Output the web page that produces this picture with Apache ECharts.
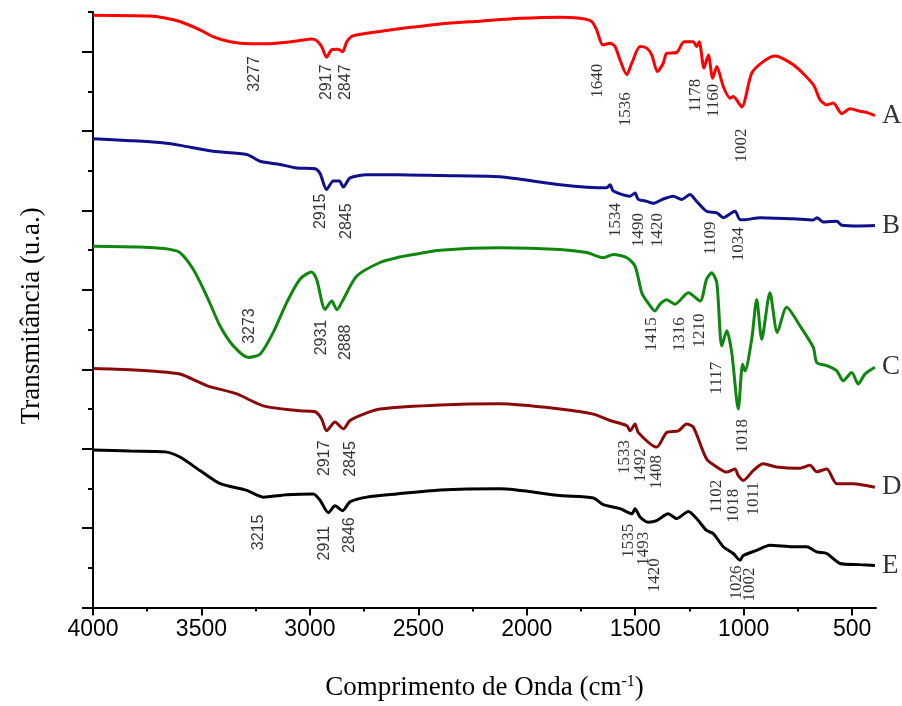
<!DOCTYPE html>
<html>
<head>
<meta charset="utf-8">
<script src="https://cdn.jsdelivr.net/npm/echarts@6/dist/echarts.min.js"></script>
<style>
html,body{margin:0;padding:0;background:#fff;}
#chart{width:902px;height:706px;}
</style>
</head>
<body>
<div id="chart"></div>
<script>
// ---- data: [wavenumber (cm-1), transmittance (a.u., offset)] ----
var curveNames = ['A', 'B', 'C', 'D', 'E'];
var curveColors = ['#ff0000', '#10108c', '#0f870f', '#8a0a0a', '#000000'];

var seriesA = [[4000,14.92],[3737,14.90],[3668,14.85],[3599,14.76],[3507,14.55],[3447,14.38],[3368,14.25],[3276,14.20],[3198,14.20],[3106,14.24],[3046,14.28],[2992,14.32],[2969,14.28],[2946,14.13],[2923,13.86],[2899,14.05],[2870,14.06],[2849,14.00],[2830,14.25],[2801,14.40],[2677,14.51],[2525,14.62],[2400,14.70],[2216,14.77],[2031,14.84],[1847,14.87],[1755,14.84],[1701,14.76],[1678,14.55],[1649,14.17],[1616,14.21],[1593,14.13],[1570,13.79],[1539,13.42],[1516,13.71],[1478,14.13],[1447,14.09],[1424,13.92],[1398,13.50],[1371,13.71],[1355,13.96],[1309,13.98],[1275,14.25],[1232,14.25],[1217,14.13],[1205,14.25],[1183,13.59],[1163,13.92],[1143,13.33],[1124,13.63],[1094,13.12],[1063,12.83],[1048,12.87],[1009,12.61],[963,13.46],[910,13.75],[856,13.89],[771,13.67],[679,13.17],[648,12.79],[617,12.66],[587,12.71],[548,12.44],[510,12.56],[464,12.50],[427,12.46],[395,12.39]];

var seriesB = [[4000,11.81],[3829,11.76],[3691,11.71],[3599,11.64],[3447,11.49],[3291,11.41],[3230,11.24],[3138,11.16],[3061,11.07],[2976,11.05],[2953,10.93],[2923,10.53],[2892,10.74],[2864,10.74],[2846,10.59],[2815,10.82],[2738,10.90],[2600,10.90],[2400,10.88],[2124,10.85],[1847,10.65],[1632,10.57],[1616,10.65],[1601,10.49],[1524,10.36],[1501,10.44],[1486,10.28],[1447,10.23],[1417,10.18],[1371,10.29],[1325,10.36],[1286,10.28],[1248,10.40],[1217,10.23],[1171,9.98],[1124,9.94],[1094,9.82],[1040,9.98],[1017,9.77],[994,9.77],[925,9.82],[771,9.79],[679,9.76],[663,9.82],[633,9.71],[571,9.73],[548,9.63],[464,9.61],[395,9.62]];

var seriesC = [[4000,9.10],[3783,9.08],[3691,9.05],[3645,9.02],[3599,8.94],[3538,8.52],[3476,7.85],[3414,7.09],[3353,6.59],[3284,6.30],[3230,6.38],[3169,6.93],[3107,7.68],[3046,8.27],[2992,8.45],[2969,8.27],[2930,7.51],[2899,7.72],[2876,7.50],[2846,7.76],[2784,8.35],[2677,8.69],[2600,8.81],[2523,8.89],[2400,9.00],[2124,9.06],[1847,9.02],[1724,8.94],[1647,8.81],[1601,8.89],[1539,8.81],[1501,8.60],[1470,7.93],[1447,7.72],[1409,7.47],[1386,7.64],[1355,7.75],[1317,7.64],[1255,7.93],[1201,7.72],[1171,8.27],[1148,8.43],[1124,8.18],[1101,6.59],[1078,6.97],[1055,6.42],[1025,5.00],[1005,6.13],[994,5.96],[963,6.76],[940,7.76],[917,6.76],[879,7.93],[845,6.93],[802,7.56],[740,7.09],[679,6.55],[663,6.17],[617,6.09],[571,5.96],[541,5.71],[502,5.92],[472,5.63],[441,5.88],[395,6.05]];

var seriesD = [[4000,6.02],[3829,5.99],[3714,5.95],[3599,5.88],[3476,5.59],[3337,5.38],[3215,5.08],[3061,4.96],[2976,4.93],[2946,4.75],[2923,4.45],[2884,4.67],[2846,4.50],[2815,4.71],[2738,4.90],[2677,5.00],[2400,5.10],[2124,5.13],[1847,5.00],[1693,4.87],[1616,4.71],[1539,4.58],[1524,4.45],[1501,4.62],[1486,4.41],[1401,4.04],[1355,4.41],[1301,4.45],[1263,4.62],[1232,4.54],[1171,3.74],[1124,3.54],[1078,3.41],[1040,3.49],[1025,3.32],[1002,3.20],[956,3.45],[910,3.62],[848,3.54],[740,3.51],[694,3.58],[663,3.42],[617,3.49],[571,3.12],[495,3.12],[395,3.03]];

var seriesE = [[4000,3.97],[3829,3.94],[3668,3.92],[3599,3.79],[3507,3.45],[3414,3.12],[3291,2.95],[3215,2.78],[3107,2.84],[2984,2.86],[2953,2.70],[2915,2.39],[2884,2.56],[2849,2.44],[2815,2.66],[2738,2.78],[2600,2.86],[2400,2.96],[2124,2.99],[1847,2.82],[1693,2.76],[1647,2.59],[1570,2.49],[1516,2.36],[1501,2.49],[1478,2.28],[1440,2.15],[1401,2.19],[1348,2.36],[1309,2.24],[1255,2.42],[1217,2.24],[1171,1.94],[1140,1.86],[1094,1.53],[1048,1.36],[1017,1.19],[1002,1.31],[940,1.44],[879,1.57],[771,1.53],[709,1.53],[663,1.40],[617,1.36],[556,1.11],[464,1.08],[395,1.06]];

// peak annotations: [wavenumber position, y position, text]
var peaksA = [[3253,13.44,'3277'],[2921,13.23,'2917'],[2834,13.23,'2847'],[1674,13.27,'1640'],[1547,12.55,'1536'],[1220,12.90,'1178'],[1141,12.77,'1160'],[1008,11.64,'1002']];
var peaksB = [[2951,9.98,'2915'],[2829,9.73,'2845'],[1591,9.76,'1534'],[1484,9.51,'1490'],[1396,9.51,'1420'],[1155,9.30,'1109'],[1022,9.15,'1034']];
var peaksC = [[3278,7.09,'3273'],[2944,6.80,'2931'],[2834,6.68,'2888'],[1423,6.88,'1415'],[1298,6.88,'1316'],[1203,6.98,'1210'],[1124,5.78,'1117'],[1005,4.32,'1018']];
var peaksD = [[2930,3.76,'2917'],[2812,3.74,'2845'],[1550,3.79,'1533'],[1477,3.58,'1492'],[1401,3.41,'1408'],[1123,2.80,'1102'],[1049,2.56,'1018'],[954,2.74,'1011']];
var peaksE = [[3236,1.89,'3215'],[2930,1.62,'2911'],[2817,1.82,'2846'],[1530,1.68,'1535'],[1461,1.48,'1493'],[1409,0.81,'1420'],[1034,0.63,'1026'],[972,0.58,'1002']];

var xMajorTicks = [4000, 3500, 3000, 2500, 2000, 1500, 1000, 500];
var xMinorTicks = [3750, 3250, 2750, 2250, 1750, 1250, 750];
var yMajorTicks = [0, 2, 4, 6, 8, 10, 12, 14];
var yMinorTicks = [1, 3, 5, 7, 9, 11, 13, 15];

var xTitle = 'Comprimento de Onda (cm{sup|-1})';
var yTitle = 'Transmitância (u.a.)';

// ---- chart ----
var allCurves = [seriesA, seriesB, seriesC, seriesD, seriesE];
var allPeaks = [peaksA, peaksB, peaksC, peaksD, peaksE];

var series = [];
allCurves.forEach(function (d, i) {
  series.push({
    type: 'line', name: curveNames[i], data: d, showSymbol: false, smooth: 0.25,
    lineStyle: { color: curveColors[i], width: 3 },
    itemStyle: { color: curveColors[i] },
    silent: true, z: 3
  });
});
// curve letters, attached to each curve's last point
series.push({
  type: 'scatter', symbolSize: 0.1, clip: false, silent: true,
  itemStyle: { color: 'rgba(0,0,0,0)' },
  data: allCurves.map(function (d, i) {
    var last = d[d.length - 1];
    return {
      value: [last[0], last[1]],
      label: {
        show: true, formatter: curveNames[i], position: 'right', distance: 7,
        color: '#000', fontFamily: 'Liberation Serif', fontSize: 27
      }
    };
  }),
  z: 4
});
allPeaks.forEach(function (p) {
  series.push({
    type: 'scatter', symbolSize: 0.1, clip: false, silent: true,
    itemStyle: { color: 'rgba(0,0,0,0)' },
    data: p.map(function (q) {
      var sans = q[0] > 2500;
      return {
        value: [q[0], q[1]],
        label: {
          show: true, formatter: q[2], position: 'inside', rotate: 90,
          color: '#000',
          fontFamily: sans ? 'Liberation Sans' : 'Liberation Serif',
          fontSize: sans ? 16 : 17
        }
      };
    }),
    z: 4
  });
});

var axisLineStyle = { color: '#000', width: 2 };
var chart = echarts.init(document.getElementById('chart'), null, { renderer: 'canvas' });
chart.setOption({
  animation: false,
  backgroundColor: '#fff',
  grid: { left: 93, right: 26, top: 12, bottom: 97 },
  xAxis: [{
    type: 'value', min: 390, max: 4000, inverse: true, position: 'bottom',
    axisLine: { show: true, lineStyle: axisLineStyle },
    axisTick: { show: true, customValues: xMajorTicks, length: 8, lineStyle: { color: '#000', width: 2 } },
    axisLabel: {
      customValues: xMajorTicks, color: '#000', fontFamily: 'Liberation Sans', fontSize: 23, margin: 11,
      formatter: function (v) { return String(v); }
    },
    splitLine: { show: false },
    name: xTitle, nameLocation: 'middle', nameGap: 66,
    nameTextStyle: {
      color: '#000', fontFamily: 'Liberation Serif', fontSize: 27,
      rich: { sup: { fontSize: 16, fontFamily: 'Liberation Serif', color: '#000', verticalAlign: 'top', padding: [0, 0, 12, 0] } }
    }
  }, {
    type: 'value', min: 390, max: 4000, inverse: true, position: 'bottom',
    axisLine: { show: false },
    axisTick: { show: true, customValues: xMinorTicks, length: 4, lineStyle: { color: '#000', width: 2 } },
    axisLabel: { show: false }, splitLine: { show: false }
  }],
  yAxis: [{
    type: 'value', min: 0, max: 15, position: 'left',
    axisLine: { show: true, lineStyle: axisLineStyle },
    axisTick: { show: true, customValues: yMajorTicks, length: 11, lineStyle: { color: '#000', width: 2 } },
    axisLabel: { show: false }, splitLine: { show: false },
    name: yTitle, nameLocation: 'middle', nameGap: 48, nameRotate: 90,
    nameTextStyle: { color: '#000', fontFamily: 'Liberation Serif', fontSize: 27, padding: [0, 12, 0, 0] }
  }, {
    type: 'value', min: 0, max: 15, position: 'left',
    axisLine: { show: false },
    axisTick: { show: true, customValues: yMinorTicks, length: 5, lineStyle: { color: '#000', width: 2 } },
    axisLabel: { show: false }, splitLine: { show: false }
  }],
  series: series
});
</script>
</body>
</html>
